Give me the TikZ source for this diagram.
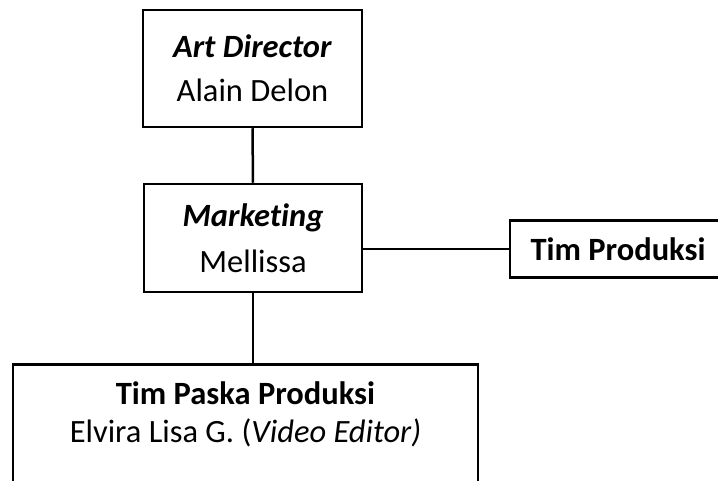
\documentclass[tikz,border=0pt]{standalone}
\usepackage{fontspec}
\setmainfont[Ligatures=NoCommon]{Carlito}
\usepackage{tikz}
\usetikzlibrary{calc}

\begin{document}
\begin{tikzpicture}[x=1pt,y=-1pt,
    box/.style={draw=black,line width=2.5pt,align=center,inner sep=0pt},
    link/.style={draw=black,line width=2.5pt},
    font=\fontsize{32.5}{44}\selectfont]

    % Keep the page at the size of the picture
    \clip (0,0) rectangle (718,481);

    % Place the boxes of the chart
    \node[box,minimum width=219,minimum height=117] (ad) at (252.5,68.5)
        {\textbf{\textit{Art Director}}\\Alain Delon};
    \node[box,minimum width=218,minimum height=108] (mkt) at (253,238)
        {\textbf{\textit{Marketing}}\\[2pt]Mellissa};
    \node[box,minimum width=216,minimum height=57] (prod) at (618,249)
        {\textbf{Tim Produksi}};
    \node[box,anchor=north,minimum width=465,inner ysep=17pt,text depth=120pt,
          font=\fontsize{32.5}{38}\selectfont] (pasca) at (245.5,363)
        {\textbf{Tim Paska Produksi}\\Elvira Lisa G. (\textit{Video Editor)}};

    % Draw the connectors
    \draw[link] (ad.south) -- (mkt.north);
    \draw[link] (mkt.east |- prod.west) -- (prod.west);
    \draw[link] (mkt.south) -- (mkt.south |- pasca.north);

\end{tikzpicture}
\end{document}
